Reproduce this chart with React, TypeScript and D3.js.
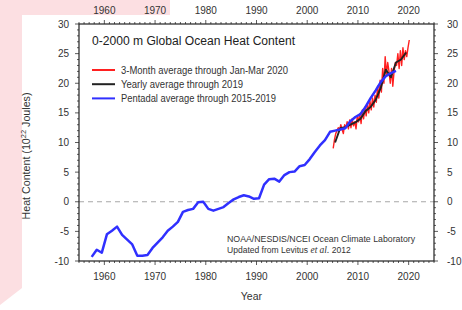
import { useRef, useEffect } from "react";
import * as d3 from "d3";

// Pentadal (5-year running) averages, one per year from 1957.5
const pentadStart = 1957.5;
const pentadal = [
  -9.3, -8.1, -8.6, -5.5, -4.9, -4.2, -5.6, -6.4, -7.2, -9.1,
  -9.1, -9.0, -7.8, -6.9, -6.0, -4.9, -4.2, -3.4, -1.7, -1.4,
  -1.2, -0.1, 0.0, -1.2, -1.5, -1.2, -0.9, -0.2, 0.4, 0.8,
  1.1, 0.9, 0.5, 0.6, 2.9, 3.8, 3.9, 3.4, 4.5, 5.0,
  5.1, 6.0, 6.2, 7.2, 8.4, 9.5, 10.4, 11.8, 12.0, 12.2,
  12.4, 13.6, 14.3, 14.8, 16.0, 17.5, 18.8, 20.2, 21.2, 21.7,
  22.1,
];

// Yearly averages 2005-2019
const yearlyStart = 2005.5;
const yearly = [
  10.0, 12.4, 12.6, 13.0, 13.4, 14.0, 15.3, 16.0, 17.2, 19.2,
  22.3, 21.0, 23.5, 24.0, 25.2,
];

// 3-month averages Jan-Mar 2005 .. Jan-Mar 2020
const seasonalStart = 2005.125;
const seasonal = [
  9.0, 10.5, 11.5, 12.0,
  12.5, 12.0, 13.0, 12.2,
  11.5, 13.0, 12.5, 13.5,
  12.3, 13.8, 12.5, 14.0,
  12.8, 13.5, 12.3, 14.5,
  13.5, 14.8, 13.2, 15.5,
  14.0, 16.0, 14.5, 16.5,
  15.0, 17.0, 15.5, 17.5,
  16.0, 18.0, 16.8, 19.5,
  17.5, 20.5, 18.5, 22.5,
  20.0, 24.5, 21.5, 23.5,
  22.0, 20.0, 22.5, 19.5,
  22.0, 23.5, 23.0, 25.0,
  22.5, 25.5, 23.0, 26.0,
  24.0, 25.5, 24.5, 26.0,
  27.3,
];

const xTicks = [1960, 1970, 1980, 1990, 2000, 2010, 2020];
const yTicks = [-10, -5, 0, 5, 10, 15, 20, 25, 30];

const legendItems = [
  { label: "3-Month average through Jan-Mar 2020", color: "#ff2020", len: 167 },
  { label: "Yearly average through 2019", color: "#222222", len: 122 },
  { label: "Pentadal average through 2015-2019", color: "#3030ff", len: 155 },
];

const FONT = "'Liberation Sans', Arial, Helvetica, sans-serif";

const App = () => {
  const svgRef = useRef(null);

  useEffect(() => {
    const svg = d3.select(svgRef.current);
    const width = 462;
    const height = 310;
    const margin = { top: 24, right: 28, bottom: 49, left: 79 };
    const innerWidth = width - margin.left - margin.right;
    const innerHeight = height - margin.top - margin.bottom;

    svg.selectAll("*").remove();

    // page background + pink frame
    svg.append("rect").attr("width", width).attr("height", height).attr("fill", "#fff");
    svg
      .append("path")
      .attr("d", "M0,0 L170,0 L170,15 L22,15 L22,288 L0,305 Z")
      .attr("fill", "#fcdfe2");

    const g = svg
      .append("g")
      .attr("transform", `translate(${margin.left},${margin.top})`);

    const x = d3.scaleLinear().domain([1955, 2025]).range([0, innerWidth]);
    const y = d3.scaleLinear().domain([-10, 30]).range([innerHeight, 0]);

    // zero line
    g.append("line")
      .attr("x1", 0)
      .attr("x2", innerWidth)
      .attr("y1", y(0))
      .attr("y2", y(0))
      .attr("stroke", "#a8a8a8")
      .attr("stroke-width", 1.2)
      .attr("stroke-dasharray", "5,4");

    // minor + major ticks (outward)
    const tickColor = "#333";
    const xMinor = d3.range(1955, 2026, 1);
    const yMinor = d3.range(-10, 31, 1);
    xMinor.forEach((yr) => {
      const major = yr % 10 === 0;
      const len = major ? 4 : 2;
      g.append("line")
        .attr("x1", x(yr)).attr("x2", x(yr))
        .attr("y1", 0).attr("y2", -len)
        .attr("stroke", tickColor).attr("stroke-width", 0.8);
      g.append("line")
        .attr("x1", x(yr)).attr("x2", x(yr))
        .attr("y1", innerHeight).attr("y2", innerHeight + len)
        .attr("stroke", tickColor).attr("stroke-width", 0.8);
    });
    yMinor.forEach((v) => {
      const major = v % 5 === 0;
      const len = major ? 4 : 2;
      g.append("line")
        .attr("x1", 0).attr("x2", -len)
        .attr("y1", y(v)).attr("y2", y(v))
        .attr("stroke", tickColor).attr("stroke-width", 0.8);
      g.append("line")
        .attr("x1", innerWidth).attr("x2", innerWidth + len)
        .attr("y1", y(v)).attr("y2", y(v))
        .attr("stroke", tickColor).attr("stroke-width", 0.8);
    });

    // tick labels
    const labelColor = "#333";
    xTicks.forEach((t) => {
      g.append("text")
        .attr("x", x(t)).attr("y", -10)
        .attr("text-anchor", "middle")
        .attr("font-size", 10).attr("font-family", FONT).attr("fill", labelColor)
        .text(t);
      g.append("text")
        .attr("x", x(t)).attr("y", innerHeight + 19)
        .attr("text-anchor", "middle")
        .attr("font-size", 10).attr("font-family", FONT).attr("fill", labelColor)
        .text(t);
    });
    yTicks.forEach((t) => {
      g.append("text")
        .attr("x", -10).attr("y", y(t) + 3.5)
        .attr("text-anchor", "end")
        .attr("font-size", 10).attr("font-family", FONT).attr("fill", labelColor)
        .text(t);
      g.append("text")
        .attr("x", innerWidth + 13).attr("y", y(t) + 3.5)
        .attr("text-anchor", "start")
        .attr("font-size", 10).attr("font-family", FONT).attr("fill", labelColor)
        .text(t);
    });

    // axis titles
    g.append("text")
      .attr("x", x(1989)).attr("y", innerHeight + 39)
      .attr("text-anchor", "middle")
      .attr("font-size", 10.5).attr("font-family", FONT).attr("fill", labelColor)
      .text("Year");

    const yl = svg
      .append("text")
      .attr("transform", `translate(30,156) rotate(-90)`)
      .attr("text-anchor", "middle")
      .attr("font-size", 10).attr("font-family", FONT).attr("fill", labelColor)
      .attr("textLength", 127).attr("lengthAdjust", "spacingAndGlyphs");
    yl.append("tspan").text("Heat Content (10");
    yl.append("tspan").attr("font-size", 7).attr("dy", -4).text("22");
    yl.append("tspan").attr("dy", 4).text(" Joules)");

    // lines
    const line = d3
      .line()
      .x((d) => x(d[0]))
      .y((d) => y(d[1]));

    const redPts = seasonal.map((v, i) => [seasonalStart + i * 0.25, v]);
    const blackPts = yearly.map((v, i) => [yearlyStart + i, v]);
    const bluePts = pentadal.map((v, i) => [pentadStart + i, v]);

    g.append("path")
      .attr("d", line(redPts))
      .attr("fill", "none")
      .attr("stroke", "#ff2020")
      .attr("stroke-width", 1.4)
      .attr("stroke-linejoin", "round");

    g.append("path")
      .attr("d", line(blackPts))
      .attr("fill", "none")
      .attr("stroke", "#222")
      .attr("stroke-width", 1.9)
      .attr("stroke-linejoin", "round");

    g.append("path")
      .attr("d", line(bluePts))
      .attr("fill", "none")
      .attr("stroke", "#3030ff")
      .attr("stroke-width", 2.5)
      .attr("stroke-linejoin", "round");

    // frame
    g.append("rect")
      .attr("width", innerWidth)
      .attr("height", innerHeight)
      .attr("fill", "none")
      .attr("stroke", "#222")
      .attr("stroke-width", 1.2);

    // title
    g.append("text")
      .attr("x", 13).attr("y", 20.5)
      .attr("font-size", 12.5).attr("font-family", FONT).attr("fill", "#222")
      .attr("textLength", 203).attr("lengthAdjust", "spacingAndGlyphs")
      .text("0-2000 m Global Ocean Heat Content");

    // legend
    legendItems.forEach((item, i) => {
      const ly = 46 + i * 14.2;
      g.append("line")
        .attr("x1", 13).attr("x2", 36)
        .attr("y1", ly).attr("y2", ly)
        .attr("stroke", item.color).attr("stroke-width", 2);
      g.append("text")
        .attr("x", 42).attr("y", ly + 3.5)
        .attr("font-size", 10).attr("font-family", FONT).attr("fill", "#333")
        .attr("textLength", item.len).attr("lengthAdjust", "spacingAndGlyphs")
        .text(item.label);
    });

    // credit, horizontally condensed
    const credit = g
      .append("g")
      .attr("transform", "translate(148,0) scale(0.9,1)");
    credit
      .append("text")
      .attr("x", 0).attr("y", 218)
      .attr("font-size", 9.5).attr("font-family", FONT).attr("fill", "#333")
      .attr("textLength", 209).attr("lengthAdjust", "spacingAndGlyphs")
      .text("NOAA/NESDIS/NCEI Ocean Climate Laboratory");
    const cr = credit
      .append("text")
      .attr("x", 0).attr("y", 229.5)
      .attr("font-size", 9.5).attr("font-family", FONT).attr("fill", "#333");
    cr.append("tspan").text("Updated from Levitus ");
    cr.append("tspan")
      .attr("font-family", "'Liberation Serif', 'Times New Roman', serif")
      .attr("font-style", "italic")
      .attr("font-size", 10.5)
      .text("et al.");
    cr.append("tspan").text(" 2012");
  }, []);

  return (
    <svg
      ref={svgRef}
      width="462"
      height="310"
      style={{ position: "absolute", left: 0, top: 0 }}
    ></svg>
  );
};

export default App;
